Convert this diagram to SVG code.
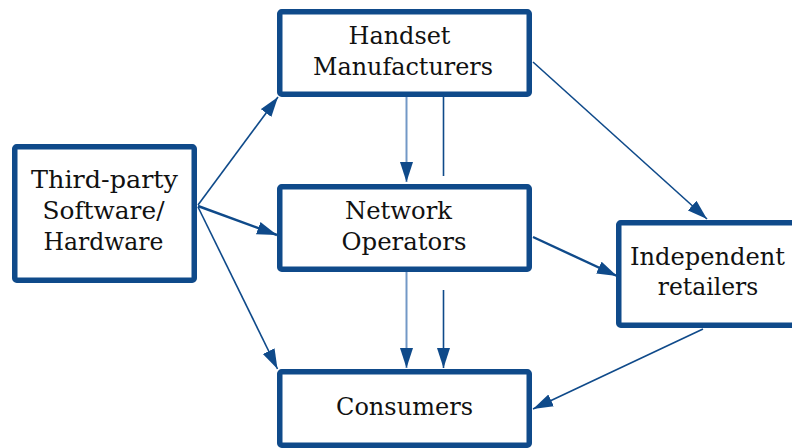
<svg xmlns="http://www.w3.org/2000/svg" width="792" height="448" viewBox="0 0 792 448">
  <style>
    .box { fill: #ffffff; stroke: #0f4a8a; stroke-width: 5.5; stroke-linejoin: round; }
    .lbl { font-family: "DejaVu Serif", "Liberation Serif", serif; font-size: 25px; fill: #111111; text-anchor: middle; }
    .edge { stroke: #0f4a8a; stroke-width: 1.6; fill: none; }
    .edge.bold { stroke-width: 2.4; }
    .edge.pale { stroke: #7298c6; stroke-width: 2; }
  </style>
  <defs>
    <marker id="head" markerUnits="userSpaceOnUse" markerWidth="21" markerHeight="14" refX="20" refY="6.5" orient="auto">
      <path d="M0,0 L20,6.5 L0,13 Z" fill="#0f4a8a"/>
    </marker>
  </defs>

  <rect width="792" height="448" fill="#ffffff"/>

  <g id="connectors">
    <!-- Third-party fan-out -->
    <line class="edge" x1="198" y1="205" x2="278" y2="97" marker-end="url(#head)"/>
    <line class="edge bold" x1="198" y1="206" x2="277" y2="235" marker-end="url(#head)"/>
    <line class="edge" x1="198" y1="207" x2="277.5" y2="369" marker-end="url(#head)"/>
    <!-- Handset to Network: arrow plus plain line -->
    <line class="edge pale" x1="406.5" y1="97" x2="406.5" y2="182" marker-end="url(#head)"/>
    <line class="edge" x1="443.5" y1="97" x2="443.5" y2="176"/>
    <!-- Network to Consumers -->
    <line class="edge pale" x1="406.5" y1="272" x2="406.5" y2="368" marker-end="url(#head)"/>
    <line class="edge" x1="443.5" y1="290" x2="443.5" y2="368" marker-end="url(#head)"/>
    <!-- To and from Independent retailers -->
    <line class="edge" x1="533" y1="62" x2="707" y2="219" marker-end="url(#head)"/>
    <line class="edge bold" x1="533" y1="237" x2="617" y2="276" marker-end="url(#head)"/>
    <line class="edge" x1="703" y1="329" x2="533" y2="409" marker-end="url(#head)"/>
  </g>

  <g id="third-party">
    <rect class="box" x="14.75" y="146.75" width="179.5" height="133.5" rx="2"/>
    <text class="lbl" x="104.5" y="188" textLength="147" lengthAdjust="spacingAndGlyphs">Third-party</text>
    <text class="lbl" x="103.5" y="219" textLength="122" lengthAdjust="spacingAndGlyphs">Software/</text>
    <text class="lbl" x="103.5" y="250" textLength="120" lengthAdjust="spacingAndGlyphs">Hardware</text>
  </g>

  <g id="handset-manufacturers">
    <rect class="box" x="279.75" y="11.75" width="249.5" height="82.5" rx="2"/>
    <text class="lbl" x="399.5" y="43.5" textLength="102" lengthAdjust="spacingAndGlyphs">Handset</text>
    <text class="lbl" x="403" y="75" textLength="180" lengthAdjust="spacingAndGlyphs">Manufacturers</text>
  </g>

  <g id="network-operators">
    <rect class="box" x="279.75" y="186.75" width="249.5" height="82.5" rx="2"/>
    <text class="lbl" x="398.5" y="219" textLength="107" lengthAdjust="spacingAndGlyphs">Network</text>
    <text class="lbl" x="404" y="250" textLength="125" lengthAdjust="spacingAndGlyphs">Operators</text>
  </g>

  <g id="consumers">
    <rect class="box" x="279.75" y="371.75" width="249.5" height="73.5" rx="2"/>
    <text class="lbl" x="404.5" y="415" textLength="137" lengthAdjust="spacingAndGlyphs">Consumers</text>
  </g>

  <g id="independent-retailers">
    <rect class="box" x="618.75" y="222.75" width="178" height="102.5" rx="2"/>
    <text class="lbl" x="707.5" y="264.5" textLength="155" lengthAdjust="spacingAndGlyphs">Independent</text>
    <text class="lbl" x="708" y="295" textLength="100.5" lengthAdjust="spacingAndGlyphs">retailers</text>
  </g>
</svg>
